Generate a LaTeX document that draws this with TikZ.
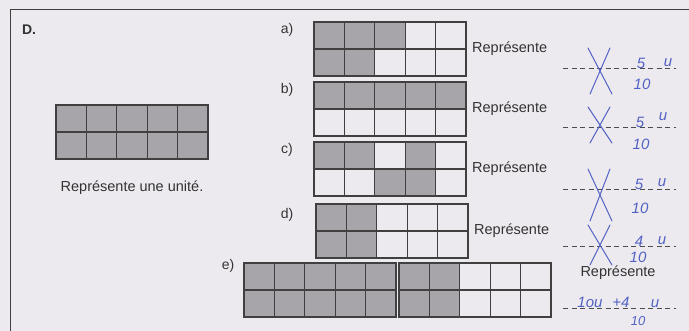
\documentclass[tikz,border=0pt]{standalone}
\usepackage{fontspec}
\setmainfont{Liberation Sans}
\usetikzlibrary{positioning,calc}
\definecolor{lap}{HTML}{EDEAEF}
\definecolor{szurke}{HTML}{A7A5A9}
\definecolor{vonal}{HTML}{404040}
\definecolor{toll}{HTML}{5262C4}
\tikzset{
  tabla/.style={minimum width=152pt,minimum height=54pt,inner sep=0pt,outer sep=0pt,anchor=north west},
  cella/.style={fill=szurke},
  racs/.style={draw=vonal,line width=1.1pt},
  keretvonal/.style={draw=black!75,line width=0.9pt},
  felirat/.style={font=\fontsize{14.5}{16}\selectfont,text=black!80,inner sep=0pt},
  betu/.style={font=\fontsize{14}{16}\selectfont,text=black!80,inner sep=0pt},
  szagg/.style={draw=black!70,dash pattern=on 5pt off 3.5pt,line width=0.8pt},
  kez/.style={text=toll,font=\fontsize{15}{16}\selectfont\itshape,inner sep=0pt},
  firka/.style={draw=toll,line width=1pt,line cap=round},
}

\begin{document}
\begin{tikzpicture}[x=1pt,y=-1pt]
  \fill[lap] (0,0) rectangle (689,331);
  \useasboundingbox (0,0) rectangle (689,331);
  \draw[keretvonal] (10,331) -- (10,9) -- (689,9);
  \node[betu,font=\fontsize{14}{16}\selectfont\bfseries] (cim) at (29,30) {D.};

  % the grids
  \foreach \n/\x/\y in {u/56/105, a/314/22, b/314/82, c/314/142, d/316/204, e/244/263, f/399/263}
    \node[tabla] (t\n) at (\x,\y) {};
  \foreach \n/\a/\b/\c/\d in {u/0/0/5/2, a/0/0/3/1, a/0/1/2/2, b/0/0/5/1, c/0/0/2/1, c/3/0/4/1,
      c/2/1/4/2, d/0/0/2/2, e/0/0/5/2, f/0/0/2/2}
    \fill[cella] ($(t\n.north west)+(\a*30.4,\b*27)$) rectangle ($(t\n.north west)+(\c*30.4,\d*27)$);
  \foreach \n in {u,a,b,c,d,e,f} {
    \foreach \i in {1,...,4}
      \draw[racs] ($(t\n.north west)+(\i*30.4,0)$) -- ($(t\n.south west)+(\i*30.4,0)$);
    \draw[racs] (t\n.west) -- (t\n.east);
    \draw[racs] (t\n.north west) rectangle (t\n.south east);
  }

  % labels
  \node[felirat,below=22pt of tu] (ru) {Représente une unité.};
  \node[betu] (la) at (287,30) {a)};
  \node[betu] (lb) at (287,90) {b)};
  \node[betu] (lc) at (287,150) {c)};
  \node[betu] (ld) at (287,215) {d)};
  \node[betu] (le) at (228,266) {e)};
  \foreach \n in {a,b,c,d}
    \node[felirat,right=6pt of t\n] (r\n) {Représente};
  \node[felirat] (re) at (618,273) {Représente};

  % answer lines
  \foreach \y in {68,127,189,246,308}
    \draw[szagg] (563,\y) -- (676,\y);
  \foreach \y/\h in {71/23, 125/18, 195/26, 245/20}
    \draw[firka] (588,\y-\h) -- (612,\y+\h) (610,\y-\h) -- (590,\y+\h);

  \node[kez] (sa) at (641,63) {5};
  \node[kez] (na) at (642,84) {10};
  \node[kez] (ua) at (668,63) {u};
  \node[kez] (sb) at (640,122) {5};
  \node[kez] (nb) at (641,144) {10};
  \node[kez] (ub) at (663,117) {u};
  \node[kez] (sc) at (639,184) {5};
  \node[kez] (nc) at (640,208) {10};
  \node[kez] (uc) at (662,183) {u};
  \node[kez] (sd) at (639,241) {4};
  \node[kez] (nd) at (638,257) {10};
  \node[kez] (ud) at (662,241) {u};
  \node[kez] (ke) at (590,302) {1ou};
  \node[kez] (pe) at (621,302) {+4};
  \node[kez,font=\fontsize{13}{14}\selectfont\itshape] (ne) at (638,321) {10};
  \node[kez] (ue) at (655,304) {u};
\end{tikzpicture}
\end{document}
